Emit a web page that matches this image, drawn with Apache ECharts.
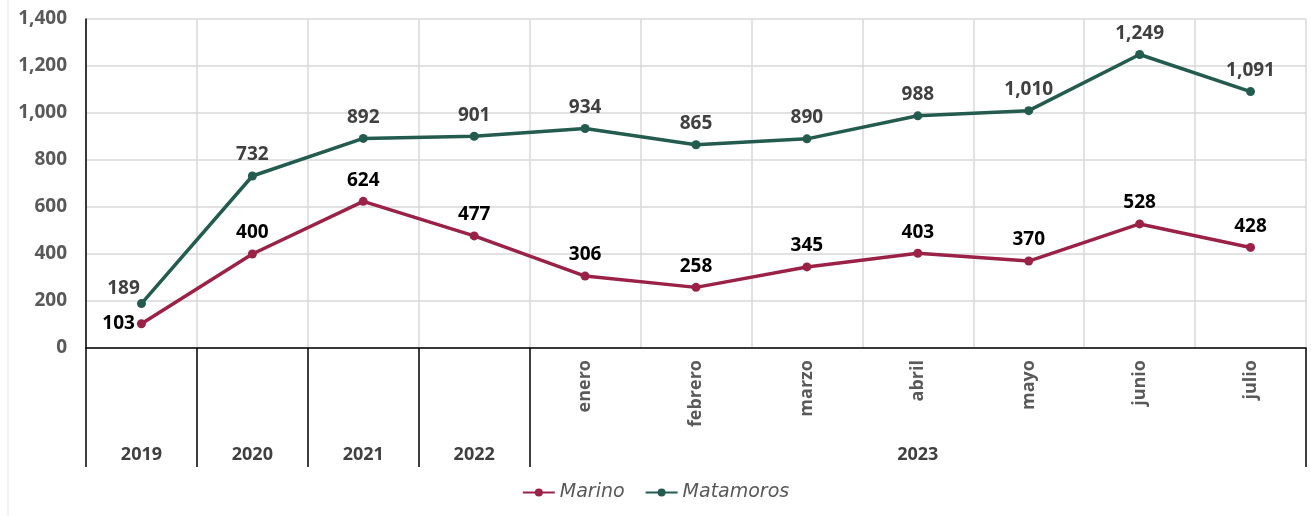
<!DOCTYPE html>
<html>
<head>
<meta charset="utf-8">
<script src="https://cdn.jsdelivr.net/npm/echarts@6/dist/echarts.min.js"></script>
<style>
  html, body { margin: 0; padding: 0; background: #fff; }
  #chart { width: 1311px; height: 516px; }
</style>
</head>
<body>
<div id="chart"></div>
<script>
// categorias: meses de 2023 (los años previos van sin etiqueta de mes)
const monthLabels = ['', '', '', '', 'enero', 'febrero', 'marzo', 'abril', 'mayo', 'junio', 'julio']
// fila inferior de años (2023 centrado en su grupo)
const yearLabels = ['2019', '2020', '2021', '2022', '', '', '', '2023', '', '', '']
const marino = [103, 400, 624, 477, 306, 258, 345, 403, 370, 528, 428]
const matamoros = [189, 732, 892, 901, 934, 865, 890, 988, 1010, 1249, 1091]
const yTicks = [0, 200, 400, 600, 800, 1000, 1200, 1400]

const FONT = "'Open Sans', 'Noto Sans', sans-serif"
const LEGEND_FONT = "'DejaVu Sans', sans-serif"
const fmt = v => Number(v).toLocaleString('en-US')

const chart = echarts.init(document.getElementById('chart'))

// etiquetas de datos; el primer punto se acomoda distinto
function buildData(values, firstLabel) {
  return values.map((v, i) => i === 0 ? { value: v, label: firstLabel } : v)
}

const option = {
  backgroundColor: '#fff',
  animation: false,
  grid: { left: 86, right: 5, top: 19, bottom: 168 },
  legend: {
    bottom: 9,
    left: 'center',
    itemWidth: 32,
    itemHeight: 10,
    itemGap: 20,
    textStyle: { fontFamily: LEGEND_FONT, fontSize: 19, fontStyle: 'italic', color: '#595959' },
    data: ['Marino', 'Matamoros']
  },
  xAxis: [
    {
      type: 'category',
      data: monthLabels,
      boundaryGap: true,
      axisLine: { show: true, lineStyle: { color: '#000', width: 1.5 } },
      axisTick: {
        show: true,
        length: 119,
        interval: (index) => index <= 4,
        lineStyle: { color: '#000', width: 1.5 }
      },
      axisLabel: {
        interval: 0,
        rotate: 90,
        margin: 12,
        fontFamily: FONT,
        fontSize: 18,
        fontWeight: 'bold',
        color: '#595959'
      },
      splitLine: { show: true, lineStyle: { color: '#d9d9d9', width: 1.5 } }
    },
    {
      type: 'category',
      data: yearLabels,
      position: 'bottom',
      boundaryGap: true,
      axisLine: { show: false },
      axisTick: { show: false },
      axisLabel: {
        interval: 0,
        margin: 98,
        fontFamily: FONT,
        fontSize: 18,
        fontWeight: 'bold',
        color: '#404040'
      },
      splitLine: { show: false }
    }
  ],
  yAxis: {
    type: 'value',
    min: yTicks[0],
    max: yTicks[yTicks.length - 1],
    interval: 200,
    axisLine: { show: true, lineStyle: { color: '#000', width: 1.5 } },
    axisTick: { show: false },
    axisLabel: {
      margin: 19,
      fontFamily: FONT,
      fontSize: 19,
      fontWeight: 'bold',
      color: '#595959',
      formatter: fmt
    },
    splitLine: { lineStyle: { color: '#d9d9d9', width: 1.5 } }
  },
  series: [
    {
      name: 'Marino',
      type: 'line',
      data: buildData(marino, { position: 'left', distance: 2 }),
      color: '#9b2247',
      lineStyle: { width: 3.5 },
      symbol: 'circle',
      symbolSize: 9,
      label: {
        show: true,
        position: 'top',
        distance: 7,
        fontFamily: FONT,
        fontSize: 19,
        fontWeight: 'bold',
        color: '#000',
        formatter: p => fmt(p.value)
      }
    },
    {
      name: 'Matamoros',
      type: 'line',
      data: buildData(matamoros, { position: 'top', offset: [-18, 6] }),
      color: '#235b4e',
      lineStyle: { width: 3.5 },
      symbol: 'circle',
      symbolSize: 9,
      label: {
        show: true,
        position: 'top',
        distance: 7,
        fontFamily: FONT,
        fontSize: 19,
        fontWeight: 'bold',
        color: '#404040',
        formatter: p => fmt(p.value)
      }
    }
  ],
  graphic: [
    { type: 'line', shape: { x1: 8, y1: 0, x2: 8, y2: 516 }, style: { stroke: '#e6e6e6', lineWidth: 1 } }
  ]
}

chart.setOption(option)
</script>
</body>
</html>
